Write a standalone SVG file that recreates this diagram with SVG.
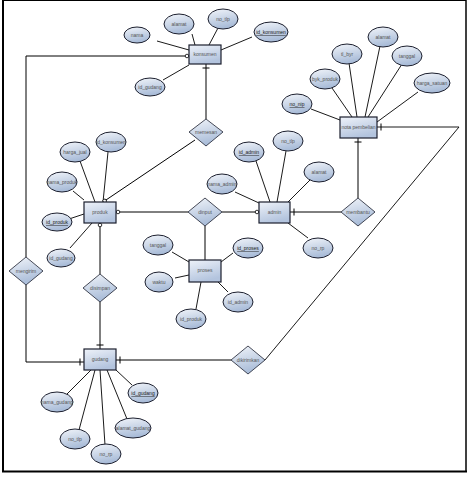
<svg xmlns="http://www.w3.org/2000/svg" width="469" height="477" viewBox="0 0 469 477">
<style>
.e{fill:url(#g);stroke:#1c1f2e;stroke-width:1}
.b{fill:url(#gb);stroke:#1c1f2e;stroke-width:1.2}
.d{fill:url(#g);stroke:#1c1f2e;stroke-width:0.8}
.t{font-family:"Liberation Sans",Arial,sans-serif;font-size:5px;fill:#555;text-anchor:middle;dominant-baseline:middle}
.u{text-decoration:underline;fill:#222}
.a{stroke:#000;stroke-width:0.9;fill:none}
.c{stroke:#000;stroke-width:1;fill:none}
</style>
<defs>
<linearGradient id="g" x1="0" y1="0" x2="0.3" y2="1">
<stop offset="0" stop-color="#f2f5fa"/>
<stop offset="1" stop-color="#a9bcd8"/>
</linearGradient>
<linearGradient id="gb" x1="0" y1="0" x2="0.4" y2="1">
<stop offset="0" stop-color="#eef2f9"/>
<stop offset="1" stop-color="#b3c4de"/>
</linearGradient>
<marker id="bar" markerUnits="userSpaceOnUse" markerWidth="12" markerHeight="12" refX="8" refY="6" orient="auto">
<path d="M4,2.5 V9.5" stroke="#000" stroke-width="1"/>
</marker>
<marker id="circ" markerUnits="userSpaceOnUse" markerWidth="12" markerHeight="12" refX="8" refY="6" orient="auto">
<circle cx="6" cy="6" r="1.8" fill="#fff" stroke="#000" stroke-width="0.8"/>
</marker>
</defs>
<rect x="0" y="0" width="469" height="477" fill="#fff"/>
<g id="frame" fill="none" stroke="#000">
<line x1="3" y1="0.5" x2="466" y2="0.5" stroke-width="1"/>
<line x1="3" y1="0" x2="3" y2="472" stroke-width="2"/>
<line x1="466" y1="0" x2="466" y2="472" stroke-width="1.5"/>
<line x1="2" y1="471.5" x2="467" y2="471.5" stroke-width="2"/>
</g>
<g id="connectors">
<!-- attribute lines -->
<line class="a" x1="157" y1="41" x2="189" y2="50"/>
<line class="a" x1="192" y1="34" x2="195" y2="45"/>
<line class="a" x1="218" y1="28" x2="209" y2="45"/>
<line class="a" x1="252" y1="37" x2="221" y2="50"/>
<line class="a" x1="163" y1="80" x2="189" y2="65"/>
<line class="a" x1="80" y1="161" x2="95" y2="202"/>
<line class="a" x1="108" y1="152" x2="103" y2="202"/>
<line class="a" x1="73" y1="191" x2="84" y2="200"/>
<line class="a" x1="69" y1="219" x2="84" y2="214"/>
<line class="a" x1="70" y1="248" x2="92" y2="223"/>
<line class="a" x1="256" y1="161" x2="270" y2="202"/>
<line class="a" x1="286" y1="151" x2="277" y2="202"/>
<line class="a" x1="310" y1="180" x2="288" y2="202"/>
<line class="a" x1="235" y1="192" x2="259" y2="203"/>
<line class="a" x1="308" y1="238" x2="288" y2="223"/>
<line class="a" x1="172" y1="252" x2="189" y2="262"/>
<line class="a" x1="233" y1="253" x2="221" y2="262"/>
<line class="a" x1="175" y1="278" x2="189" y2="275"/>
<line class="a" x1="228" y1="292" x2="218" y2="282"/>
<line class="a" x1="196" y1="309" x2="201" y2="282"/>
<line class="a" x1="380" y1="46" x2="365" y2="117"/>
<line class="a" x1="349" y1="63" x2="357" y2="117"/>
<line class="a" x1="402" y1="64" x2="368" y2="117"/>
<line class="a" x1="332" y1="88" x2="352" y2="117"/>
<line class="a" x1="418" y1="92" x2="377" y2="122"/>
<line class="a" x1="311" y1="109" x2="340" y2="120"/>
<line class="a" x1="67" y1="394" x2="91" y2="370"/>
<line class="a" x1="132" y1="385" x2="116" y2="370"/>
<line class="a" x1="127" y1="419" x2="107" y2="370"/>
<line class="a" x1="79" y1="430" x2="95" y2="370"/>
<line class="a" x1="105" y1="445" x2="100" y2="370"/>
<!-- relationship lines -->
<path class="c" d="M26,257 V56 H189" marker-end="url(#circ)"/>
<path class="c" d="M26,285 V362 H84" marker-end="url(#bar)"/>
<path class="c" d="M206,119 V64" marker-end="url(#bar)"/>
<path class="c" d="M195,140 L103,202" marker-end="url(#circ)"/>
<path class="c" d="M188,212 H116" marker-end="url(#circ)"/>
<path class="c" d="M222,212 H259" marker-end="url(#circ)"/>
<path class="c" d="M205,226 V260"/>
<path class="c" d="M341,212 H290" marker-end="url(#bar)"/>
<path class="c" d="M358,198 V138" marker-end="url(#bar)"/>
<path class="c" d="M100,274 V223" marker-end="url(#circ)"/>
<path class="c" d="M100,302 V349" marker-end="url(#bar)"/>
<path class="a" d="M265,360 L459,127 H377" marker-end="url(#bar)"/>
<path class="c" d="M231,360 H116" marker-end="url(#bar)"/>
</g>
<g id="konsumen"><rect class="b" x="189" y="45" width="32" height="19"/><text class="t" x="205" y="55">konsumen</text></g>
<g id="produk"><rect class="b" x="84" y="202" width="32" height="21"/><text class="t" x="100" y="213">produk</text></g>
<g id="admin"><rect class="b" x="259" y="202" width="31" height="21"/><text class="t" x="274.5" y="213">admin</text></g>
<g id="proses"><rect class="b" x="189" y="260" width="32" height="22"/><text class="t" x="205" y="271">proses</text></g>
<g id="gudang"><rect class="b" x="84" y="349" width="32" height="21"/><text class="t" x="100" y="360">gudang</text></g>
<g id="nota_pembelian"><rect class="b" x="340" y="117" width="37" height="21"/><text class="t" x="358.5" y="128">nota pembelian</text></g>
<g id="memesan"><polygon class="d" points="206,119 223,132 206,146 189,132"/><text class="t" x="206" y="133">memesan</text></g>
<g id="dinput"><polygon class="d" points="205,198 222,212 205,226 188,212"/><text class="t" x="205" y="213">dinput</text></g>
<g id="membantu"><polygon class="d" points="358,198 375,212 358,226 341,212"/><text class="t" x="358" y="213">membantu</text></g>
<g id="disimpan"><polygon class="d" points="100,274 117,288 100,302 83,288"/><text class="t" x="100" y="289">disimpan</text></g>
<g id="mengirim"><polygon class="d" points="26,257 43,271 26,285 9,271"/><text class="t" x="26" y="272">mengirim</text></g>
<g id="dikirimkan"><polygon class="d" points="248,346 265,360 248,374 231,360"/><text class="t" x="248" y="361">dikirimkan</text></g>
<g id="k_nama"><ellipse class="e" cx="137" cy="35" rx="13" ry="8"/><text class="t" x="137" y="36">nama</text></g>
<g id="k_alamat"><ellipse class="e" cx="179" cy="24" rx="15" ry="10"/><text class="t" x="179" y="25">alamat</text></g>
<g id="k_no_tlp"><ellipse class="e" cx="223" cy="19" rx="15" ry="10"/><text class="t" x="223" y="20">no_tlp</text></g>
<g id="k_id_konsumen"><ellipse class="e" cx="271" cy="32" rx="17" ry="10"/><text class="t u" x="271" y="33">id_konsumen</text></g>
<g id="k_id_gudang"><ellipse class="e" cx="150" cy="87" rx="15" ry="9"/><text class="t" x="150" y="88">id_gudang</text></g>
<g id="p_harga_jual"><ellipse class="e" cx="75" cy="152" rx="15" ry="10"/><text class="t" x="75" y="153">harga_jual</text></g>
<g id="p_id_konsumen"><ellipse class="e" cx="111" cy="142" rx="15" ry="10"/><text class="t" x="111" y="143">id_konsumen</text></g>
<g id="p_nama_produk"><ellipse class="e" cx="62" cy="182" rx="15" ry="10"/><text class="t" x="62" y="183">nama_produk</text></g>
<g id="p_id_produk"><ellipse class="e" cx="57" cy="222" rx="15" ry="9"/><text class="t u" x="57" y="223">id_produk</text></g>
<g id="p_id_gudang"><ellipse class="e" cx="61" cy="258" rx="14" ry="9"/><text class="t" x="61" y="259">id_gudang</text></g>
<g id="a_id_admin"><ellipse class="e" cx="249" cy="152" rx="15" ry="10"/><text class="t u" x="249" y="153">id_admin</text></g>
<g id="a_no_tlp"><ellipse class="e" cx="288" cy="141" rx="15" ry="10"/><text class="t" x="288" y="142">no_tlp</text></g>
<g id="a_alamat"><ellipse class="e" cx="319" cy="172" rx="15" ry="10"/><text class="t" x="319" y="173">alamat</text></g>
<g id="a_nama_admin"><ellipse class="e" cx="222" cy="184" rx="15" ry="10"/><text class="t" x="222" y="185">nama_admin</text></g>
<g id="a_no_rp"><ellipse class="e" cx="318" cy="248" rx="15" ry="10"/><text class="t" x="318" y="249">no_rp</text></g>
<g id="pr_id_proses"><ellipse class="e" cx="248" cy="248" rx="15" ry="10"/><text class="t u" x="248" y="249">id_proses</text></g>
<g id="pr_tanggal"><ellipse class="e" cx="158" cy="245" rx="15" ry="10"/><text class="t" x="158" y="246">tanggal</text></g>
<g id="pr_waktu"><ellipse class="e" cx="159" cy="282" rx="14" ry="10"/><text class="t" x="159" y="283">waktu</text></g>
<g id="pr_id_admin"><ellipse class="e" cx="238" cy="302" rx="15" ry="10"/><text class="t" x="238" y="303">id_admin</text></g>
<g id="pr_id_produk"><ellipse class="e" cx="191" cy="319" rx="15" ry="10"/><text class="t" x="191" y="320">id_produk</text></g>
<g id="n_alamat"><ellipse class="e" cx="383" cy="37" rx="15" ry="10"/><text class="t" x="383" y="38">alamat</text></g>
<g id="n_tl_byr"><ellipse class="e" cx="347" cy="54" rx="15" ry="10"/><text class="t" x="347" y="55">tl_byr</text></g>
<g id="n_tanggal"><ellipse class="e" cx="407" cy="56" rx="15" ry="10"/><text class="t" x="407" y="57">tanggal</text></g>
<g id="n_byk_produk"><ellipse class="e" cx="325" cy="79" rx="15" ry="10"/><text class="t" x="325" y="80">byk_produk</text></g>
<g id="n_harga_satuan"><ellipse class="e" cx="432" cy="83" rx="18" ry="10"/><text class="t" x="432" y="84">harga_satuan</text></g>
<g id="n_no_nip"><ellipse class="e" cx="297" cy="104" rx="15" ry="10"/><text class="t u" x="297" y="105">no_nip</text></g>
<g id="g_nama_gudang"><ellipse class="e" cx="57" cy="402" rx="16" ry="10"/><text class="t" x="57" y="403">nama_gudang</text></g>
<g id="g_id_gudang"><ellipse class="e" cx="143" cy="393" rx="15" ry="10"/><text class="t u" x="143" y="394">id_gudang</text></g>
<g id="g_alamat_gudang"><ellipse class="e" cx="133" cy="428" rx="18" ry="10"/><text class="t" x="133" y="429">alamat_gudang</text></g>
<g id="g_no_tlp"><ellipse class="e" cx="75" cy="439" rx="15" ry="10"/><text class="t" x="75" y="440">no_tlp</text></g>
<g id="g_no_rp"><ellipse class="e" cx="106" cy="454" rx="15" ry="10"/><text class="t" x="106" y="455">no_rp</text></g>
</svg>
